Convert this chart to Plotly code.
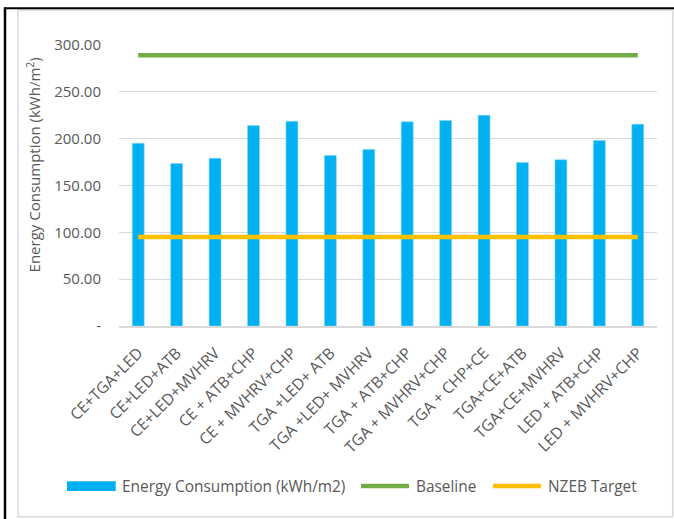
import plotly.graph_objects as go

# Retrofit packages compared against the baseline and the NZEB target
categories = [
    "CE+TGA+LED", "CE+LED+ATB", "CE+LED+MVHRV", "CE + ATB+CHP", "CE + MVHRV+CHP",
    "TGA +LED+ ATB", "TGA +LED+ MVHRV", "TGA + ATB+CHP", "TGA + MVHRV+CHP",
    "TGA + CHP+CE", "TGA+CE+ATB", "TGA+CE+MVHRV", "LED + ATB+CHP", "LED + MVHRV+CHP",
]
energy = [195.0, 173.5, 179.0, 214.0, 218.5, 182.0, 188.5, 218.0, 219.5, 225.0,
          174.5, 177.5, 198.0, 215.5]
baseline_value = 289.0
nzeb_value = 95.0

ytick_vals = [0, 50, 100, 150, 200, 250, 300]
ytick_text = ["-", "50.00", "100.00", "150.00", "200.00", "250.00", "300.00"]

FONT = "Open Sans"
GREY = "#595959"
BLUE = "#00B0F0"
GREEN = "#70AD47"
GOLD = "#FFC000"

W, H = 674, 519
ML, MR, MT, MB = 119, 17, 44.5, 193.3
PW, PH = W - ML - MR, H - MT - MB


def px(x):
    return (x - ML) / PW


def py(y):
    return (H - MB - y) / PH


fig = go.Figure()
fig.add_trace(go.Bar(
    x=categories, y=energy, name="Energy Consumption (kWh/m2)",
    marker=dict(color=BLUE, line=dict(color="#7fd6f5", width=0.6)),
    showlegend=False,
))
fig.add_trace(go.Scatter(
    x=categories, y=[baseline_value] * len(categories), name="Baseline",
    mode="lines", line=dict(color=GREEN, width=4.5), showlegend=False,
))
fig.add_trace(go.Scatter(
    x=categories, y=[nzeb_value] * len(categories), name="NZEB Target",
    mode="lines", line=dict(color=GOLD, width=4.5), showlegend=False,
))

shapes = [
    # outer grey chart frame
    dict(type="rect", xref="paper", yref="paper", x0=px(18), x1=px(672.7),
         y0=py(9.5), y1=py(516.7), line=dict(color="#d9d9d9", width=1.5), layer="below"),
    # black frame edges on left and top
    dict(type="line", xref="paper", yref="paper", x0=px(5), x1=px(5),
         y0=py(7), y1=py(519), line=dict(color="black", width=2.5)),
    dict(type="line", xref="paper", yref="paper", x0=px(4), x1=px(674),
         y0=py(7.7), y1=py(7.7), line=dict(color="black", width=1.8)),
    # legend swatches
    dict(type="rect", xref="paper", yref="paper", x0=px(67), x1=px(115.7),
         y0=py(481), y1=py(490.7), fillcolor=BLUE, line=dict(width=0)),
    dict(type="line", xref="paper", yref="paper", x0=px(361), x1=px(409),
         y0=py(485.7), y1=py(485.7), line=dict(color=GREEN, width=4.5)),
    dict(type="line", xref="paper", yref="paper", x0=px(493), x1=px(541),
         y0=py(485.7), y1=py(485.7), line=dict(color=GOLD, width=4.5)),
]

annotations = [
    dict(text="Energy Consumption (kWh/m<sup>2</sup>)", xref="paper", yref="paper",
         x=px(33), y=py(165), textangle=-90, showarrow=False,
         font=dict(family=FONT, size=15, color=GREY), xanchor="center", yanchor="middle"),
]
for label, x0 in [("Energy Consumption (kWh/m2)", 120), ("Baseline", 414), ("NZEB Target", 546)]:
    annotations.append(dict(text=label, xref="paper", yref="paper", x=px(x0), y=py(486),
                            showarrow=False, xanchor="left", yanchor="middle",
                            font=dict(family=FONT, size=15.4, color=GREY)))

fig.update_layout(
    width=W, height=H,
    margin=dict(l=ML, r=MR, t=MT, b=MB, autoexpand=False),
    paper_bgcolor="white", plot_bgcolor="white",
    font=dict(family=FONT, color=GREY, size=15),
    bargap=0.69,
    shapes=shapes, annotations=annotations,
    showlegend=False,
    xaxis=dict(
        type="category", tickangle=-45, showgrid=False, ticks="",
        showline=True, linecolor="#d9d9d9", linewidth=1.5,
        tickfont=dict(family=FONT, size=15.7, color=GREY),
        ticklabelstandoff=10, automargin=False,
    ),
    yaxis=dict(
        range=[0, 300], tickvals=ytick_vals, ticktext=ytick_text,
        showgrid=True, gridcolor="#d9d9d9", gridwidth=1.2,
        zeroline=False, showline=False, ticks="",
        tickfont=dict(family=FONT, size=15, color=GREY),
        ticklabelstandoff=17, automargin=False,
    ),
)

fig.write_html("out.html")
